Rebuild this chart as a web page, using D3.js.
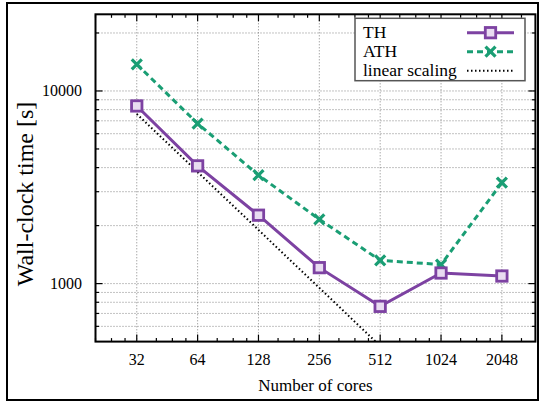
<!DOCTYPE html>
<html>
<head>
<meta charset="utf-8">
<script src="https://cdn.jsdelivr.net/npm/d3@7"></script>
<style>
  html, body { margin: 0; padding: 0; background: #fff; }
  svg { display: block; }
  text { font-family: "Liberation Serif", "DejaVu Serif", serif; fill: #000; }
</style>
</head>
<body>
<svg id="chart" width="540" height="402"></svg>
<script>
// ---- data ----
const cores = [32, 64, 128, 256, 512, 1024, 2048];
const thTimes = [8360, 4085, 2265, 1210, 762, 1135, 1095];
const athTimes = [13760, 6777, 3656, 2156, 1321, 1255, 3342];
const linearCores = [32, 64, 128, 256, 512];
const linearTimes = [7600, 3800, 1900, 950, 475];
const xTickLabels = ["32", "64", "128", "256", "512", "1024", "2048"];
const yTickValues = [1000, 10000];
const yTickLabels = ["1000", "10000"];
const yMinorValues = [600, 700, 800, 900, 2000, 3000, 4000, 5000, 6000, 7000, 8000, 9000, 20000];
const xMinorValues = [20, 24, 28, 40, 48, 56, 80, 96, 112, 160, 192, 224, 320, 384, 448,
                      640, 768, 896, 1280, 1536, 1792, 2560];
const seriesNames = ["TH", "ATH", "linear scaling"];

// ---- layout ----
const svg = d3.select("#chart");
const L = 95.5, R = 535.4, T = 14.3, B = 341.6;
const x = d3.scaleLog().base(2).domain([20, 3000]).range([L, R]);
const y = d3.scaleLog().domain([500, 25000]).range([B, T]);

const purple = "#7d42a2";
const green = "#1a9e74";

// outer frame
svg.append("rect").attr("x", 7).attr("y", 3).attr("width", 531).attr("height", 397)
  .attr("fill", "none").attr("stroke", "#000").attr("stroke-width", 2);

// clip
svg.append("clipPath").attr("id", "clip").append("rect")
  .attr("x", L).attr("y", T).attr("width", R - L).attr("height", B - T);

// grid
const grid = svg.append("g").attr("stroke", "#666").attr("stroke-width", 0.8)
  .attr("stroke-dasharray", "1,2").attr("fill", "none");
cores.forEach(v => grid.append("line").attr("x1", x(v)).attr("x2", x(v)).attr("y1", T).attr("y2", B));
yTickValues.concat(yMinorValues).forEach(v =>
  grid.append("line").attr("x1", L).attr("x2", R).attr("y1", y(v)).attr("y2", y(v)));

// ticks (inward, mirrored)
const tk = svg.append("g").attr("stroke", "#000").attr("stroke-width", 1.2);
cores.forEach(v => {
  tk.append("line").attr("x1", x(v)).attr("x2", x(v)).attr("y1", B).attr("y2", B - 7);
  tk.append("line").attr("x1", x(v)).attr("x2", x(v)).attr("y1", T).attr("y2", T + 7);
});
xMinorValues.forEach(v => {
  tk.append("line").attr("x1", x(v)).attr("x2", x(v)).attr("y1", B).attr("y2", B - 3.5);
  tk.append("line").attr("x1", x(v)).attr("x2", x(v)).attr("y1", T).attr("y2", T + 3.5);
});
yTickValues.forEach(v => {
  tk.append("line").attr("x1", L).attr("x2", L + 7).attr("y1", y(v)).attr("y2", y(v));
  tk.append("line").attr("x1", R).attr("x2", R - 7).attr("y1", y(v)).attr("y2", y(v));
});
yMinorValues.forEach(v => {
  tk.append("line").attr("x1", L).attr("x2", L + 3.5).attr("y1", y(v)).attr("y2", y(v));
  tk.append("line").attr("x1", R).attr("x2", R - 3.5).attr("y1", y(v)).attr("y2", y(v));
});

// tick labels
cores.forEach((v, i) => svg.append("text").attr("x", x(v)).attr("y", 365)
  .attr("text-anchor", "middle").attr("font-size", 16).text(xTickLabels[i]));
yTickValues.forEach((v, i) => svg.append("text").attr("x", 82).attr("y", y(v) + 5.5)
  .attr("text-anchor", "end").attr("font-size", 16).text(yTickLabels[i]));

// axis titles
svg.append("text").attr("x", (L + R) / 2).attr("y", 391).attr("text-anchor", "middle")
  .attr("font-size", 17).text("Number of cores");
svg.append("text").attr("transform", "translate(33,194) rotate(-90)")
  .attr("text-anchor", "middle").attr("font-size", 24).text("Wall-clock time [s]");

// series
const plot = svg.append("g").attr("clip-path", "url(#clip)");
const line = d3.line().x(d => x(d[0])).y(d => y(d[1]));
plot.append("path").datum(linearCores.map((c, i) => [c, linearTimes[i]]))
  .attr("d", line).attr("fill", "none").attr("stroke", "#000").attr("stroke-width", 2)
  .attr("stroke-dasharray", "1.5,2.5");
plot.append("path").datum(athTimes.map((t, i) => [cores[i], t]))
  .attr("d", line).attr("fill", "none").attr("stroke", green).attr("stroke-width", 3)
  .attr("stroke-dasharray", "6,4");
plot.append("path").datum(thTimes.map((t, i) => [cores[i], t]))
  .attr("d", line).attr("fill", "none").attr("stroke", purple).attr("stroke-width", 3);

function square(g, cx, cy) {
  g.append("rect").attr("x", cx - 5.2).attr("y", cy - 5.2).attr("width", 10.4).attr("height", 10.4)
    .attr("fill", "#e9dcf1").attr("stroke", purple).attr("stroke-width", 2.8);
}
function cross(g, cx, cy) {
  const s = 5;
  g.append("path").attr("d", `M${cx - s},${cy - s}L${cx + s},${cy + s}M${cx - s},${cy + s}L${cx + s},${cy - s}`)
    .attr("stroke", green).attr("stroke-width", 3.2).attr("fill", "none");
}
athTimes.forEach((t, i) => cross(plot, x(cores[i]), y(t)));
thTimes.forEach((t, i) => square(plot, x(cores[i]), y(t)));

// border
svg.append("rect").attr("x", L).attr("y", T).attr("width", R - L).attr("height", B - T)
  .attr("fill", "none").attr("stroke", "#000").attr("stroke-width", 2);

// legend
const lg = svg.append("g");
lg.append("rect").attr("x", 355).attr("y", 18.3).attr("width", 170).attr("height", 62.4)
  .attr("fill", "#fff").attr("stroke", "#555").attr("stroke-width", 1.5);
const rows = [32.7, 51.7, 70.7];
seriesNames.forEach((n, i) => lg.append("text").attr("x", 363).attr("y", rows[i] + 5.5)
  .attr("font-size", 17.5).text(n));
lg.append("line").attr("x1", 467).attr("x2", 514).attr("y1", rows[0]).attr("y2", rows[0])
  .attr("stroke", purple).attr("stroke-width", 3);
square(lg, 490.5, rows[0]);
lg.append("line").attr("x1", 467).attr("x2", 514).attr("y1", rows[1]).attr("y2", rows[1])
  .attr("stroke", green).attr("stroke-width", 3).attr("stroke-dasharray", "6,4");
cross(lg, 490.5, rows[1]);
lg.append("line").attr("x1", 467).attr("x2", 514).attr("y1", rows[2]).attr("y2", rows[2])
  .attr("stroke", "#000").attr("stroke-width", 2).attr("stroke-dasharray", "1.5,2.5");
</script>
</body>
</html>
